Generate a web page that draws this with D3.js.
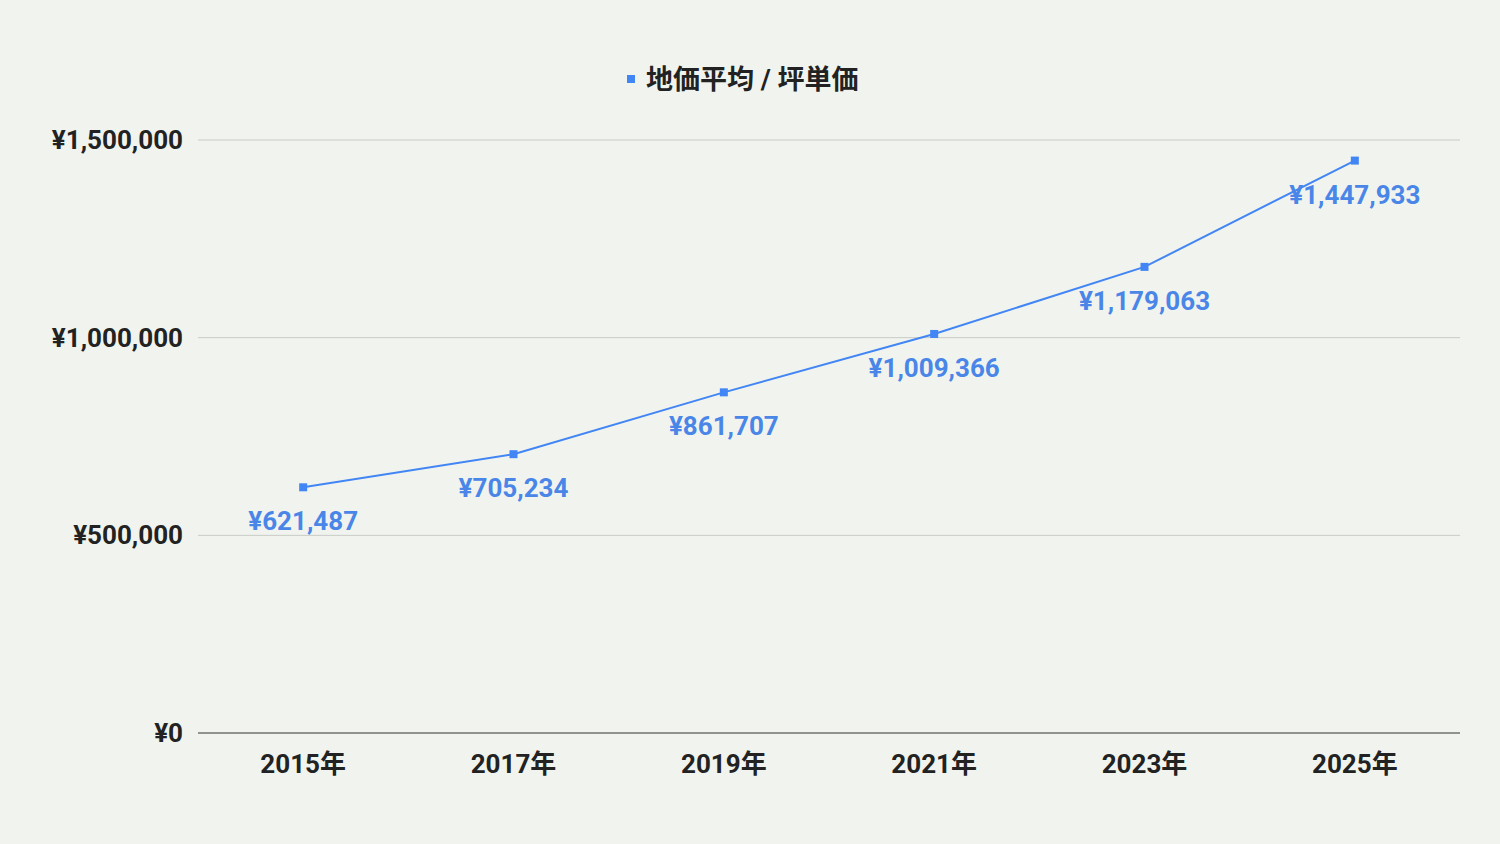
<!DOCTYPE html>
<html>
<head>
<meta charset="utf-8">
<script src="https://cdn.jsdelivr.net/npm/d3@7"></script>
<style>
  body { margin: 0; background: #f1f4ee; }
  text { font-family: Roboto, "Noto Sans CJK JP", sans-serif; font-weight: bold; }
</style>
</head>
<body>
<svg id="chart" width="1500" height="844"></svg>
<script>
// data
var years = ['2015年', '2017年', '2019年', '2021年', '2023年', '2025年'];
var prices = [621487, 705234, 861707, 1009366, 1179063, 1447933];
var yTicks = [0, 500000, 1000000, 1500000];
var seriesName = '地価平均 / 坪単価';

(function() {
  var svg = d3.select('#chart');
  var plotLeft = 198, plotRight = 1460, plotTop = 140, plotBottom = 733;
  var blue = '#4285f4';

  var x = d3.scalePoint().domain(years).range([plotLeft, plotRight]).padding(0.5);
  var y = d3.scaleLinear().domain([0, 1500000]).range([plotBottom, plotTop]);
  var yen = function(v) { return '¥' + d3.format(',')(v); };

  svg.append('rect').attr('width', 1500).attr('height', 844).attr('fill', '#f1f4ee');

  // grid
  svg.selectAll('line.grid').data(yTicks).enter().append('line')
    .attr('x1', plotLeft).attr('x2', plotRight)
    .attr('y1', function(d) { return y(d); }).attr('y2', function(d) { return y(d); })
    .attr('stroke', function(d) { return d === 0 ? '#333' : '#c8cbc6'; })
    .attr('stroke-width', 1);

  svg.selectAll('text.ytick').data(yTicks).enter().append('text')
    .attr('x', 183).attr('y', function(d) { return y(d) + 9; })
    .attr('text-anchor', 'end').attr('font-size', 26).attr('fill', '#222')
    .text(yen);

  svg.selectAll('text.xtick').data(years).enter().append('text')
    .attr('x', function(d) { return x(d); }).attr('y', 773)
    .attr('text-anchor', 'middle').attr('font-size', 26).attr('fill', '#222')
    .text(function(d) { return d; });

  // line
  var line = d3.line()
    .x(function(d, i) { return x(years[i]); })
    .y(function(d) { return y(d); });

  svg.append('path').datum(prices)
    .attr('d', line).attr('fill', 'none')
    .attr('stroke', blue).attr('stroke-width', 2);

  svg.selectAll('rect.pt').data(prices).enter().append('rect')
    .attr('x', function(d, i) { return x(years[i]) - 4; })
    .attr('y', function(d) { return y(d) - 4; })
    .attr('width', 8).attr('height', 8).attr('fill', blue);

  svg.selectAll('text.lbl').data(prices).enter().append('text')
    .attr('x', function(d, i) { return x(years[i]); })
    .attr('y', function(d) { return y(d) + 43; })
    .attr('text-anchor', 'middle').attr('font-size', 26).attr('fill', '#4a86e8')
    .text(yen);

  // legend
  svg.append('rect').attr('x', 627).attr('y', 75).attr('width', 8).attr('height', 8).attr('fill', blue);
  svg.append('text').attr('x', 646).attr('y', 89)
    .attr('font-size', 27).attr('fill', '#222').text(seriesName);
})();
</script>
</body>
</html>
